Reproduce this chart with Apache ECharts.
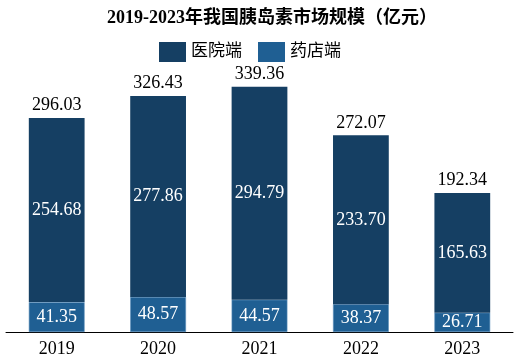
<!DOCTYPE html>
<html><head><meta charset="utf-8">
<script src="https://cdn.jsdelivr.net/npm/echarts@6/dist/echarts.min.js"></script>
<style>html,body{margin:0;padding:0;background:#fff}#c{width:523px;height:361px}</style>
</head><body><div id="c"></div>
<script>
const categories = ['2019','2020','2021','2022','2023'];
const hospital = [254.68, 277.86, 294.79, 233.70, 165.63];
const pharmacy = [41.35, 48.57, 44.57, 38.37, 26.71];
const totals = [296.03, 326.43, 339.36, 272.07, 192.34];
const seriesNames = ['医院端', '药店端'];

const serif = '"Liberation Serif","Times New Roman",serif';
const cjk = '"Liberation Serif","Noto Sans CJK SC",serif';
const chart = echarts.init(document.getElementById('c'));
chart.setOption({
  animation: false,
  title: {
    text: '2019-2023年我国胰岛素市场规模（亿元）',
    left: 102, top: 4,
    textStyle: { fontFamily: cjk, fontSize: 18, fontWeight: 'bold', color: '#000' }
  },
  legend: {
    data: seriesNames.slice(),
    top: 37, left: 154, icon: 'rect',
    itemWidth: 27, itemHeight: 20, itemGap: 16,
    itemStyle: { borderWidth: 0 },
    textStyle: { fontFamily: cjk, fontSize: 17, color: '#000' }
  },
  grid: { left: 6, right: 10, top: 79, bottom: 29 },
  xAxis: {
    type: 'category', data: categories,
    axisLine: { lineStyle: { color: '#000', width: 1 } },
    axisTick: { show: false },
    axisLabel: { fontFamily: serif, fontSize: 18, color: '#000', margin: 8 }
  },
  yAxis: { type: 'value', min: 0, max: 350, show: false, splitLine: { show: false } },
  series: [
    {
      name: seriesNames[1], type: 'bar', stack: 't', data: pharmacy, barWidth: '55%',
      itemStyle: { color: '#1f5f93', borderColor: '#5b8fbb', borderWidth: 0.6 },
      label: { show: true, position: 'inside', color: '#fff', fontFamily: serif, fontSize: 18 }
    },
    {
      name: seriesNames[0], type: 'bar', stack: 't', data: hospital, barWidth: '55%',
      itemStyle: { color: '#153f63' },
      label: { show: true, position: 'inside', color: '#fff', fontFamily: serif, fontSize: 18,
        formatter: p => p.value.toFixed(2) }
    },
    {
      name: 'total', type: 'line', data: totals, symbol: 'circle', symbolSize: 1, showSymbol: true,
      itemStyle: { color: 'rgba(0,0,0,0)' },
      lineStyle: { opacity: 0 }, silent: true,
      label: { show: true, position: 'top', distance: 3, color: '#000', fontFamily: serif, fontSize: 18,
        formatter: p => p.value.toFixed(2) }
    }
  ]
});
</script></body></html>
